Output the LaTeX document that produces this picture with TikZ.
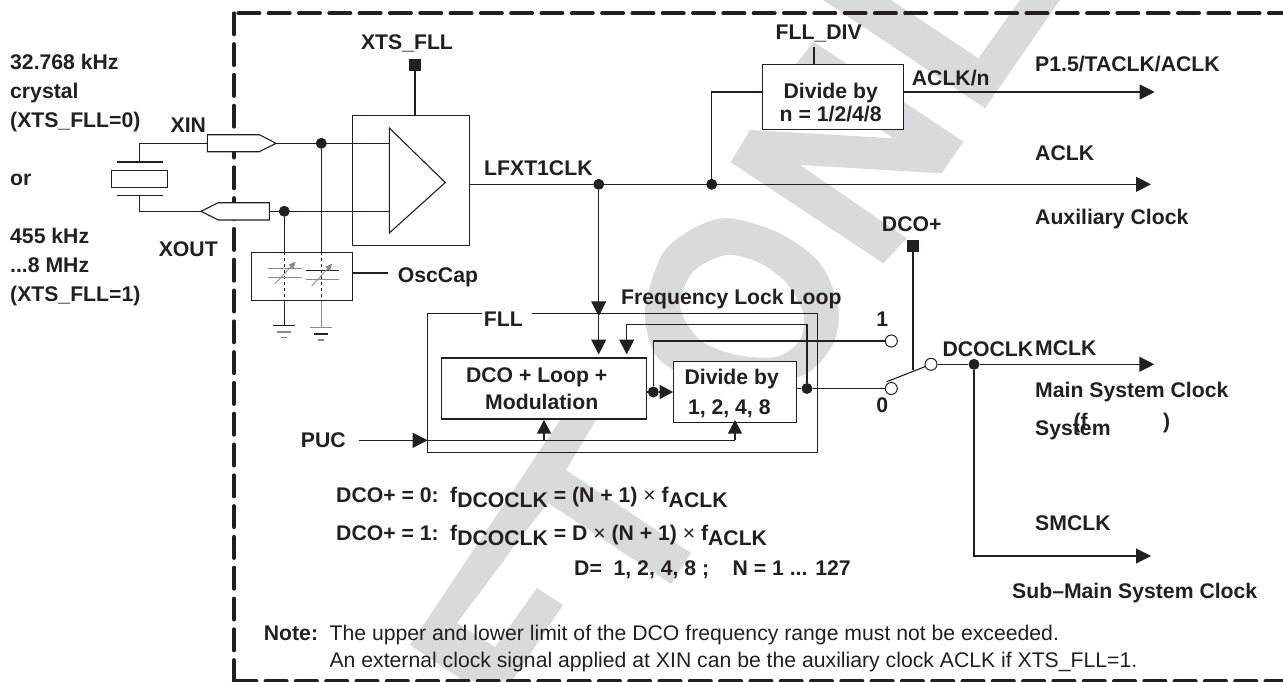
\documentclass[tikz,border=0pt]{standalone}
\usepackage{fontspec}
\setmainfont{Liberation Sans}
\usetikzlibrary{arrows.meta}
\definecolor{ink}{HTML}{231F20}
\definecolor{wmgray}{HTML}{D9DADC}
\definecolor{capgray}{HTML}{8A8A8C}
\tikzset{
  lab/.style={anchor=base west, inner sep=0pt, yshift=-7.6pt, text=ink, font=\bfseries\fontsize{21.2}{24}\selectfont},
  labc/.style={lab, anchor=base},
  note/.style={lab, font=\fontsize{21.2}{24}\selectfont},
  box/.style={draw=ink, fill=white, inner sep=0pt, line width=1.1pt},
  wire/.style={draw=ink, line width=1.1pt},
  arr/.style={wire, -{Triangle[length=15pt,width=15pt]}},
  arrs/.style={wire, -{Triangle[length=13.5pt,width=14pt]}},
  jdot/.style={circle, fill=ink, inner sep=0pt, minimum size=11pt},
  open/.style={circle, draw=ink, fill=white, inner sep=0pt, minimum size=12pt, line width=1pt},
  ctl/.style={rectangle, fill=ink, inner sep=0pt, minimum size=12pt},
  border/.style={draw=ink, line width=4pt, line cap=round},
}
\begin{document}
\begin{tikzpicture}[x=1pt, y=-1pt]
\useasboundingbox (0,0) rectangle (1283,681);
% watermark
\fill[wmgray] (560,420) -- (596,420) -- (566,470) -- (691,553) -- (671,584) -- (548,503) -- (513,547) -- (508,555) -- (457,623) -- (495,647) -- (537,588) -- (563,605) -- (512,681) -- (464,681) -- (410,645) -- cycle;
\fill[wmgray, even odd rule] plot[smooth cycle] coordinates {(730,218.3) (780,233.3) (820,263.3) (838.3,306.7) (833.3,343.3) (806.7,373.3) (753,387) (697,380) (656.7,356.7) (645,310) (663,253) (696.7,226.7)}
  plot[smooth cycle] coordinates {(726.7,255) (760,263) (786.7,283.3) (803.3,313) (800,340) (776.7,356.7) (736.7,355) (700,340) (680,306.7) (693,271.7)};
\fill[wmgray] (730.7,162.3) -- (750,130) -- (893.3,138.3) -- (791.7,70) -- (813.3,41.7) -- (963.3,141.7) -- (941.7,173.3) -- (800,165) -- (906.7,238.3) -- (883.3,263.3) -- cycle;
\fill[wmgray] (823,0) -- (891,0) -- (978.3,58.3) -- (1020,0) -- (1060,0) -- (985,108.3) -- cycle;
% device border
\coordinate (bc) at (234,13.3);
\coordinate (bl) at (234,681);
\coordinate (bt) at (1283,13.3);
\coordinate (br) at (1283,681);
\draw[border, dash pattern=on 21pt off 9.31pt, dash phase=25.92pt] (bc) -- (bt);
\draw[border, dash pattern=on 21pt off 9.8pt] (bc) -- (bl);
\draw[border, dash pattern=on 21pt off 9.3pt, dash phase=29pt] (bl) -- (br);
% crystal
\node[box, minimum width=56.4pt, minimum height=17pt] (xtal) at (139.5,178.8) {};
\coordinate (pt1) at (117,162);
\coordinate (pt2) at (162.7,162);
\coordinate (pb1) at (117,195.7);
\coordinate (pb2) at (162.7,195.7);
\draw[wire] (pt1) -- (pt2);
\draw[wire] (pb1) -- (pb2);
% pads
\coordinate (xinl) at (207.3,143.3);
\coordinate (xint) at (276,143.3);
\coordinate (xoutt) at (201,211.3);
\coordinate (xoutr) at (269.3,211.3);
\coordinate (xtop) at (139.5,162);
\coordinate (xbot) at (139.5,195.7);
\draw[wire] (xtop) -- (xtop |- xinl) -- (xinl);
\draw[wire] (xbot) -- (xbot |- xoutt) -- (xoutt);
\filldraw[box] (207.3,134.7) -- (259.3,134.7) -- (276,143.3) -- (259.3,151.7) -- (207.3,151.7) -- cycle;
\filldraw[box] (201,211.3) -- (218.3,202.7) -- (269.3,202.7) -- (269.3,220) -- (218.3,220) -- cycle;
% oscillator
\node[box, minimum width=117pt, minimum height=130pt] (osc) at (411.2,180.7) {};
\filldraw[box] (389.3,128) -- (445.3,182.5) -- (389.3,233) -- cycle;
\coordinate (ampa) at (389.3,143.3);
\coordinate (ampb) at (389.3,211.3);
\node[jdot] (jxin) at (321.3,143.3) {};
\node[jdot] (jxout) at (284.3,211.3) {};
\draw[wire] (xint) -- (ampa);
\draw[wire] (xoutr) -- (ampb);
\node[ctl] (xtsq) at (415,65) {};
\draw[wire] (xtsq) -- (xtsq |- osc.north);
% osccap
\node[box, minimum width=101.7pt, minimum height=47.3pt] (cap) at (301.9,276.4) {};
\coordinate (capo) at (388.3,273);
\draw[wire] (cap.east |- capo) -- (capo);
\coordinate (ga) at (284.3,325.3);
\coordinate (gb) at (321.3,327.3);
\draw[wire] (jxout) -- (jxout |- cap.north);
\draw[wire] (jxin) -- (jxin |- cap.north);
\draw[wire, dashed] (jxout |- cap.north) -- (jxout |- cap.south);
\draw[wire, dashed] (jxin |- cap.north) -- (jxin |- cap.south);
\draw[wire] (jxout |- cap.south) -- (ga);
\draw[wire, draw=capgray] (jxin |- cap.south) -- (gb);
\draw[wire, draw=capgray] (268,268.7) -- (301.7,268.7);
\draw[wire, draw=capgray] (268,277.7) -- (301.7,277.7);
\draw[wire] (305.7,270.3) -- (338.7,270.3);
\draw[wire, draw=capgray] (305.7,279.7) -- (338.7,279.7);
\draw[line width=.8pt, draw=capgray, -{Triangle[length=7pt,width=6pt]}] (275,283.7) -- (295.7,261.7);
\draw[line width=.8pt, draw=capgray, -{Triangle[length=7pt,width=6pt]}] (311.7,286) -- (332.3,263.7);
\draw[wire] (273.3,325.3) -- (295,325.3);
\draw[wire, draw=capgray] (276.7,332) -- (291.3,332);
\draw[wire, draw=capgray] (280.7,337.7) -- (287.3,337.7);
\draw[wire, draw=capgray] (310.3,327.3) -- (332,327.3);
\draw[wire] (313.7,334) -- (328.3,334);
\draw[wire, draw=capgray] (317.7,340) -- (324.3,340);
% aclk
\node[jdot] (ja) at (598.7,184.3) {};
\node[jdot] (jb) at (711.7,184.3) {};
\coordinate (aclkend) at (1151,184.3);
\draw[wire] (osc.east |- ja) -- (ja);
\draw[arr] (ja) -- (aclkend);
\node[box, minimum width=141pt, minimum height=64.3pt] (fdiv) at (833.2,96.9) {};
\coordinate (fdivi) at (762.7,92);
\coordinate (fdivo) at (903.7,92);
\coordinate (pend) at (1154.7,92);
\coordinate (fdivc) at (814,47.3);
\draw[wire] (jb) -- (jb |- fdivi) -- (fdivi);
\draw[arr] (fdivo) -- (pend);
\draw[wire] (fdivc) -- (fdivc |- fdiv.north);
% fll
\coordinate (fa) at (481.7,313.7);
\coordinate (fb) at (532.3,313.7);
\draw[wire] (fa) -- (427.7,313.7) -- (427.7,452.7) -- (817.3,452.7) -- (817.3,313.7) -- (fb);
\node[box, minimum width=205.7pt, minimum height=61pt] (dco) at (543.9,388.5) {};
\node[box, minimum width=123pt, minimum height=61.7pt] (dvd) at (735.2,391.9) {};
\coordinate (tipa) at (598.7,316.3);
\coordinate (tipb) at (598.7,354.5);
\coordinate (tipc) at (626.7,354.5);
\draw[arr] (ja) -- (tipa);
\draw[arr] (tipa) -- (tipb);
\node[jdot] (jl) at (653.3,392) {};
\node[jdot] (jr) at (807,388.5) {};
\draw[wire] (dco.east |- jl) -- (jl);
\draw[arrs] (jl) -- (dvd.west |- jl);
\draw[wire] (dvd.east |- jr) -- (jr);
\draw[arr] (jr) -- (jr |- 0,324.3) -- (tipc |- 0,324.3) -- (tipc);
% switch
\node[open] (swa) at (891.3,341) {};
\node[open] (swb) at (891.3,388.5) {};
\node[open] (swc) at (931,364.3) {};
\node[ctl] (dcosq) at (913,246) {};
\coordinate (swm) at (913,370);
\coordinate (swe) at (886.7,381.7);
\draw[wire] (jl) -- (jl |- swa) -- (swa);
\draw[wire] (jr) -- (swb);
\draw[wire] (dcosq) -- (swm);
\draw[wire] (swc) -- (swe);
\node[jdot] (jc) at (974,364.3) {};
\coordinate (mend) at (1154.3,364.3);
\coordinate (send) at (1151,556);
\draw[wire] (swc) -- (jc);
\draw[arr] (jc) -- (mend);
\draw[arr] (jc) -- (jc |- send) -- (send);
% puc
\coordinate (pucs) at (359.3,440.3);
\coordinate (puce) at (427.7,440.3);
\coordinate (pucr) at (735,440.3);
\coordinate (pucm) at (544,440.3);
\coordinate (tipd) at (544,420);
\coordinate (tipe) at (735,420);
\draw[arr] (pucs) -- (puce);
\draw[wire] (puce) -- (pucr);
\draw[arrs] (pucm) -- (tipd);
\draw[arrs] (pucr) -- (tipe);
% labels left
\node[lab] (l1) at (10,62.3) {32.768 kHz};
\node[lab] (l2) at (10,90.7) {crystal};
\node[lab] (l3) at (10,120) {(XTS\_FLL=0)};
\node[lab] (l4) at (10,178.3) {or};
\node[lab] (l5) at (10,236) {455 kHz};
\node[lab] (l6) at (10,265) {...8 MHz};
\node[lab] (l7) at (10,294) {(XTS\_FLL=1)};
\node[labc] (lxin) at (188.3,125) {XIN};
\node[labc] (lxout) at (188.3,249.3) {XOUT};
\node[labc] (lxts) at (407,41.7) {XTS\_FLL};
\node[lab] (lcap) at (397.7,275) {OscCap};
\node[lab] (llf) at (484,168) {LFXT1CLK};
\node[labc] (lfd) at (818.7,31.7) {FLL\_DIV};
\node[labc] (ld1) at (830.7,90.7) {Divide by};
\node[labc] (ld2) at (830.7,114) {n = 1/2/4/8};
\node[lab] (lacn) at (911.7,78) {ACLK/n};
\node[lab] (lp15) at (1035,64) {P1.5/TACLK/ACLK};
\node[lab] (lac) at (1035,153) {ACLK};
\node[lab] (laux) at (1035,216.7) {Auxiliary Clock};
\node[labc] (ldp) at (911.7,224) {DCO+};
\node[lab] (lfq) at (621,296.7) {Frequency Lock Loop};
\node[labc] (lfll) at (503.3,319) {FLL};
\node[labc] (ldc1) at (536.7,375) {DCO + Loop +};
\node[labc] (ldc2) at (541.7,402.3) {Modulation};
\node[labc] (ldv1) at (731.7,377.3) {Divide by};
\node[labc] (ldv2) at (729.3,406.7) {1, 2, 4, 8};
\node[labc] (lone) at (882.3,319.3) {1};
\node[labc] (lzero) at (882.3,405) {0};
\node[lab] (ldcl) at (942.3,349) {DCOCLK};
\node[lab] (lmc) at (1035,347.7) {MCLK};
\node[lab] (lmn) at (1035,390) {Main System Clock};
\node[lab] (lsy) at (1035,427.7) {System};
\node[lab] (lfo) at (1073.3,420.7) {(f};
\node[lab] (lfc) at (1163,420.7) {)};
\node[lab] (lsm) at (1035,522.7) {SMCLK};
\node[lab] (lsb) at (1012,590.7) {Sub--Main System Clock};
\node[labc] (lpuc) at (323.3,440) {PUC};
% formulas
\node[lab] (e1) at (336,495) {DCO+ = 0:};
\node[lab] (e2) at (450,495) {f\raisebox{-4.5pt}{DCOCLK} = (N + 1) {\mdseries ×} f\raisebox{-4.5pt}{ACLK}};
\node[lab] (e3) at (336,533) {DCO+ = 1:};
\node[lab] (e4) at (450,533) {f\raisebox{-4.5pt}{DCOCLK} = D {\mdseries ×} (N + 1) {\mdseries ×} f\raisebox{-4.5pt}{ACLK}};
\node[lab] (e5) at (574,568) {D=\ \ 1, 2, 4, 8 ;\ \ \ \ N = 1 ... 127};
\node[lab] (n1) at (263.7,632.7) {Note:};
\node[note] (n2) at (329.4,632.7) {The upper and lower limit of the DCO frequency range must not be exceeded.};
\node[note] (n3) at (329.4,660) {An external clock signal applied at XIN can be the auxiliary clock ACLK if XTS\_FLL=1.};
\end{tikzpicture}
\end{document}
